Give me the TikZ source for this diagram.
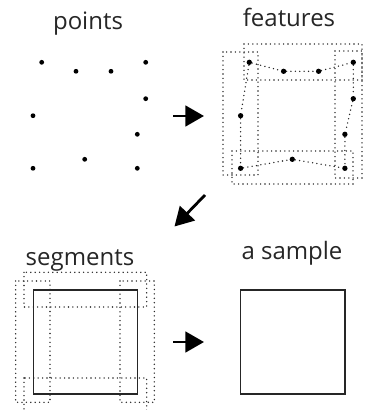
\documentclass[tikz,border=0pt]{standalone}
\usepackage{fontspec}
\setmainfont{Open Sans}
\usetikzlibrary{arrows.meta}

\begin{document}
\begin{tikzpicture}[x=0.75pt, y=-0.75pt,
    dot/.style={circle, fill=black, inner sep=0pt, minimum size=3.6pt},
    fdot/.style={dot, minimum size=4pt},
    hull/.style={line width=1.15pt, dash pattern=on 0pt off 3.3pt, line cap=round, draw=black!85},
    outline/.style={line width=0.9pt, draw=black!85},
    title/.style={anchor=base, font=\fontsize{18}{20}\selectfont, text=black!85},
    stage/.style={line width=2.1pt, -{Triangle[length=14pt,width=15.5pt]}}
]
    \useasboundingbox (0,0) rectangle (367,410);

    % Titles
    \node[title] (tpoints) at (88,29.5) {points};
    \node[title] (tfeatures) at (289,26.7) {features};
    \node[title] (tsegments) at (80,265.5) {segments};
    \node[title] (tsample) at (292,259.3) {a sample};

    % Raw points
    \foreach \i/\x/\y in {1/41.7/62.3, 2/76/71.3, 3/111/71.3, 4/145.7/62.3,
        5/145.7/98.7, 6/137.3/134.3, 7/137.3/168.3, 8/84.7/159.3,
        9/33/168.3, 10/33/115.7} {
        \node[dot] (p\i) at (\x,\y) {};
        \node[fdot] (f\i) at (\x+207.6,\y) {};
    }

    % Features: dots joined along each side
    \draw[hull] (f1) -- (f2) -- (f3) -- (f4) -- (f5) -- (f6) -- (f7);
    \draw[hull] (f9) -- (f8) -- (f7);
    \draw[hull] (f1) -- (f10) -- (f9);

    % Features: a box round each side
    \draw[hull] (244,44) rectangle (362,80);
    \draw[hull] (223,52) rectangle (258,175);
    \draw[hull] (335,51) rectangle (362,178);
    \draw[hull] (232,151) rectangle (353,184);

    % Segments
    \draw[hull] (24,272.3) rectangle (146.7,307);
    \draw[hull] (24,378) rectangle (146.7,412);
    \draw[hull] (15.7,281) rectangle (50,402.3);
    \draw[hull] (120,281) rectangle (154.3,402.3);
    \draw[outline] (33.3,290) rectangle (137.3,394);

    % A sample
    \draw[outline] (240.7,290) rectangle (345,394);

    % Steps between the stages
    \coordinate (a1s) at (173,116);
    \coordinate (a1e) at (204,116);
    \coordinate (a2s) at (205,195);
    \coordinate (a2e) at (174.5,226.5);
    \coordinate (a3s) at (173,342);
    \coordinate (a3e) at (204,342);
    \draw[stage] (a1s) -- (a1e);
    \draw[stage] (a2s) -- (a2e);
    \draw[stage] (a3s) -- (a3e);
\end{tikzpicture}
\end{document}
